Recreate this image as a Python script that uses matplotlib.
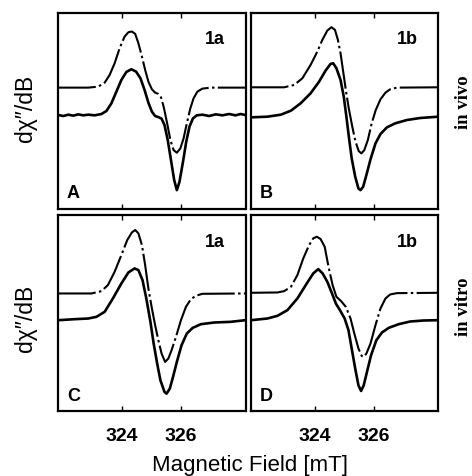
import matplotlib
matplotlib.use("Agg")
import matplotlib.pyplot as plt

plt.rcParams['font.family'] = ['Liberation Sans', 'DejaVu Sans']

# ---- data (field in mT, signal in arbitrary units) ----
A_dash_x = [321.82, 322.84, 323.18, 323.40, 323.57, 323.74, 323.91, 324.08, 324.21, 324.33, 324.44, 324.55, 324.67, 324.78, 324.89, 325.01, 325.12, 325.23, 325.32, 325.41, 325.53, 325.64, 325.75, 325.86, 325.98, 326.09, 326.20, 326.32, 326.43, 326.56, 326.73, 327.02, 328.20]
A_dash_y = [362, 362, 365, 377, 400, 435, 480, 515, 528, 530, 523, 495, 455, 415, 380, 357, 347, 343, 333, 305, 255, 205, 175, 167, 180, 210, 255, 300, 330, 350, 359, 362, 362]
A_sol_x = [321.82, 321.99, 322.16, 322.33, 322.50, 322.67, 322.84, 323.06, 323.29, 323.46, 323.63, 323.80, 323.97, 324.14, 324.31, 324.47, 324.62, 324.76, 324.89, 325.01, 325.12, 325.25, 325.34, 325.44, 325.55, 325.66, 325.77, 325.86, 325.95, 326.07, 326.18, 326.29, 326.41, 326.54, 326.73, 326.96, 327.19, 327.41, 327.64, 327.86, 328.03, 328.20]
A_sol_y = [280, 277, 281, 278, 282, 279, 281, 279, 283, 292, 315, 350, 385, 409, 417, 410, 390, 355, 317, 290, 277, 273, 269, 250, 205, 145, 85, 55, 80, 140, 200, 245, 270, 279, 281, 277, 282, 279, 283, 279, 283, 280]

B_dash_x = [321.82, 322.95, 323.29, 323.57, 323.85, 324.08, 324.25, 324.42, 324.56, 324.68, 324.78, 324.87, 324.96, 325.05, 325.15, 325.27, 325.38, 325.49, 325.58, 325.68, 325.80, 325.93, 326.07, 326.23, 326.40, 326.56, 326.79, 328.20]
B_dash_y = [363, 363, 370, 390, 430, 470, 505, 533, 543, 535, 505, 465, 410, 355, 300, 245, 200, 172, 165, 175, 205, 255, 295, 327, 347, 357, 362, 363]
B_sol_x = [321.82, 322.38, 322.84, 323.18, 323.51, 323.85, 324.14, 324.36, 324.53, 324.62, 324.73, 324.87, 324.98, 325.07, 325.16, 325.25, 325.37, 325.48, 325.55, 325.64, 325.75, 325.89, 326.06, 326.23, 326.45, 326.73, 327.13, 327.58, 328.20]
B_sol_y = [273, 275, 281, 293, 315, 345, 380, 413, 433, 435, 420, 385, 335, 275, 210, 150, 95, 60, 55, 65, 100, 147, 195, 223, 243, 255, 265, 271, 275]

C_dash_x = [321.82, 322.95, 323.29, 323.51, 323.74, 323.97, 324.17, 324.33, 324.44, 324.55, 324.67, 324.78, 324.89, 325.01, 325.12, 325.23, 325.34, 325.46, 325.57, 325.68, 325.83, 326.00, 326.17, 326.34, 326.51, 326.73, 328.20]
C_dash_y = [352, 352, 359, 377, 417, 467, 512, 535, 542, 532, 497, 437, 367, 307, 257, 212, 172, 147, 157, 182, 222, 272, 312, 335, 345, 351, 352]
C_sol_x = [321.82, 322.38, 322.84, 323.12, 323.40, 323.68, 323.97, 324.21, 324.42, 324.55, 324.69, 324.82, 324.96, 325.07, 325.19, 325.30, 325.44, 325.51, 325.62, 325.73, 325.86, 326.02, 326.20, 326.40, 326.68, 327.13, 327.69, 328.20]
C_sol_y = [272, 275, 277, 282, 297, 337, 382, 415, 427, 422, 392, 337, 267, 202, 142, 92, 57, 52, 67, 102, 147, 197, 232, 249, 260, 265, 267, 272]

D_dash_x = [321.82, 322.72, 322.95, 323.18, 323.40, 323.60, 323.80, 323.94, 324.06, 324.19, 324.33, 324.46, 324.60, 324.73, 324.89, 325.05, 325.21, 325.34, 325.48, 325.59, 325.66, 325.75, 325.89, 326.06, 326.23, 326.40, 326.56, 326.79, 328.20]
D_dash_y = [354, 355, 359, 372, 407, 457, 497, 517, 522, 515, 492, 432, 377, 342, 329, 312, 277, 232, 187, 165, 162, 172, 202, 257, 307, 337, 349, 353, 354]
D_sol_x = [321.82, 322.38, 322.72, 323.06, 323.40, 323.72, 323.94, 324.11, 324.26, 324.42, 324.58, 324.71, 324.85, 325.01, 325.14, 325.25, 325.37, 325.48, 325.57, 325.66, 325.77, 325.91, 326.09, 326.28, 326.51, 326.85, 327.24, 327.69, 328.20]
D_sol_y = [272, 277, 285, 302, 337, 382, 412, 425, 412, 387, 352, 322, 302, 277, 242, 187, 127, 77, 60, 77, 117, 167, 212, 235, 249, 260, 268, 271, 272]

panel_letters = ["A", "B", "C", "D"]
sample_labels = ["1a", "1b", "1a", "1b"]
tick_values = [324, 326]
tick_labels = ["324", "326"]
row_labels = ["in vivo", "in vitro"]
ylabel_text = "d\u03c7\u2033/dB"
xlabel_text = "Magnetic Field [mT]"

panels = [
    (A_dash_x, A_dash_y, A_sol_x, A_sol_y),
    (B_dash_x, B_dash_y, B_sol_x, B_sol_y),
    (C_dash_x, C_dash_y, C_sol_x, C_sol_y),
    (D_dash_x, D_dash_y, D_sol_x, D_sol_y),
]

W, H = 472, 476
fig = plt.figure(figsize=(W / 100, H / 100), dpi=100)

lefts = [58.3, 251.0]
rights = [245.5, 438.3]
tops = [12.5, 215.0]
bottoms = [208.5, 411.0]

for i in range(4):
    r, c = divmod(i, 2)
    l = lefts[c] / W
    w = (rights[c] - lefts[c]) / W
    b = 1 - bottoms[r] / H
    h = (bottoms[r] - tops[r]) / H
    ax = fig.add_axes([l, b, w, h])
    dx, dy, sx, sy = panels[i]
    ax.plot(dx, dy, color="black", lw=1.5, linestyle=(0, (18, 1.6, 1.2, 1.6)),
            solid_joinstyle="round", dash_joinstyle="round")
    ax.plot(sx, sy, color="black", lw=1.9, solid_joinstyle="round")
    ax.set_xlim(321.82, 328.2)
    ax.set_ylim(0, 587)
    ax.set_yticks([])
    ax.set_xticks(tick_values)
    ax.tick_params(axis="x", direction="in", top=True, bottom=True,
                   length=3.5, width=1.0, pad=12)
    if r == 1:
        ax.set_xticklabels(tick_labels, fontsize=14, fontweight="bold")
    else:
        ax.set_xticklabels([])
    for s in ax.spines.values():
        s.set_linewidth(1.6)
    ax.text(0.08, 0.075, panel_letters[i], transform=ax.transAxes,
            fontsize=13, fontweight="bold", ha="center", va="center")
    ax.text(0.835, 0.86, sample_labels[i], transform=ax.transAxes,
            fontsize=13, fontweight="bold", ha="center", va="center")

# y labels
fig.text(25 / W, 1 - 108 / H, ylabel_text, rotation=90, fontsize=16.5,
         ha="center", va="center")
fig.text(25 / W, 1 - 318 / H, ylabel_text, rotation=90, fontsize=16.5,
         ha="center", va="center")
# right labels
serif = ["Liberation Serif", "DejaVu Serif"]
fig.text(463 / W, 1 - 102 / H, row_labels[0], rotation=90, fontsize=13.5,
         fontweight="bold", family=serif, ha="center", va="center")
fig.text(463 / W, 1 - 307 / H, row_labels[1], rotation=90, fontsize=13.5,
         fontweight="bold", family=serif, ha="center", va="center")
# x label
fig.text(250 / W, 1 - 465 / H, xlabel_text, fontsize=16,
         ha="center", va="center")

fig.savefig("out.png", dpi=100)
